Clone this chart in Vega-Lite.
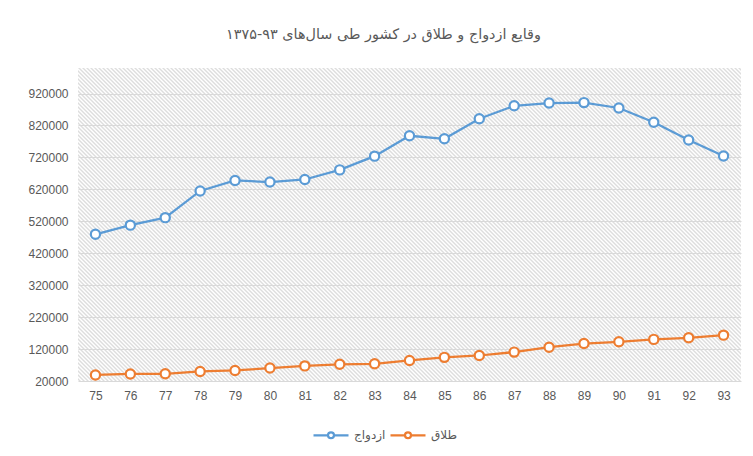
{
  "$schema": "https://vega.github.io/schema/vega-lite/v6.json",
  "width": 663,
  "height": 313,
  "autosize": "none",
  "padding": {"left": 78, "top": 68, "right": 12, "bottom": 75},
  "background": "white",
  "title": {
    "text": "وقایع ازدواج و طلاق در کشور طی سال‌های ۹۳-۱۳۷۵",
    "font": "DejaVu Sans",
    "fontSize": 14.4,
    "fontWeight": "normal",
    "color": "#595959",
    "anchor": "middle",
    "offset": 26,
    "dx": -26
  },
  "data": {
    "values": [
      {"year": "75", "series": "ازدواج", "value": 479263},
      {"year": "76", "series": "ازدواج", "value": 508000},
      {"year": "77", "series": "ازدواج", "value": 531490},
      {"year": "78", "series": "ازدواج", "value": 615000},
      {"year": "79", "series": "ازدواج", "value": 648000},
      {"year": "80", "series": "ازدواج", "value": 643000},
      {"year": "81", "series": "ازدواج", "value": 651000},
      {"year": "82", "series": "ازدواج", "value": 681000},
      {"year": "83", "series": "ازدواج", "value": 724000},
      {"year": "84", "series": "ازدواج", "value": 787818},
      {"year": "85", "series": "ازدواج", "value": 778332},
      {"year": "86", "series": "ازدواج", "value": 841107},
      {"year": "87", "series": "ازدواج", "value": 881592},
      {"year": "88", "series": "ازدواج", "value": 890208},
      {"year": "89", "series": "ازدواج", "value": 891627},
      {"year": "90", "series": "ازدواج", "value": 874792},
      {"year": "91", "series": "ازدواج", "value": 829968},
      {"year": "92", "series": "ازدواج", "value": 774513},
      {"year": "93", "series": "ازدواج", "value": 724324},
      {"year": "75", "series": "طلاق", "value": 39000},
      {"year": "76", "series": "طلاق", "value": 42000},
      {"year": "77", "series": "طلاق", "value": 42500},
      {"year": "78", "series": "طلاق", "value": 50000},
      {"year": "79", "series": "طلاق", "value": 53000},
      {"year": "80", "series": "طلاق", "value": 60559},
      {"year": "81", "series": "طلاق", "value": 67256},
      {"year": "82", "series": "طلاق", "value": 72359},
      {"year": "83", "series": "طلاق", "value": 73882},
      {"year": "84", "series": "طلاق", "value": 84241},
      {"year": "85", "series": "طلاق", "value": 94039},
      {"year": "86", "series": "طلاق", "value": 99852},
      {"year": "87", "series": "طلاق", "value": 110510},
      {"year": "88", "series": "طلاق", "value": 125747},
      {"year": "89", "series": "طلاق", "value": 137200},
      {"year": "90", "series": "طلاق", "value": 142841},
      {"year": "91", "series": "طلاق", "value": 150324},
      {"year": "92", "series": "طلاق", "value": 155369},
      {"year": "93", "series": "طلاق", "value": 163569}
    ]
  },
  "mark": {
    "type": "line",
    "strokeWidth": 2.25,
    "point": {"filled": false, "fill": "white", "size": 85, "strokeWidth": 2.2}
  },
  "encoding": {
    "x": {
      "field": "year",
      "type": "ordinal",
      "sort": null,
      "scale": {"type": "point", "padding": 0.5},
      "axis": {
        "title": null,
        "labelAngle": 0,
        "labelFont": "Liberation Sans",
        "labelFontSize": 12,
        "labelColor": "#595959",
        "labelPadding": 9,
        "ticks": false,
        "domain": false,
        "grid": false
      }
    },
    "y": {
      "field": "value",
      "type": "quantitative",
      "scale": {"domain": [20000, 1000000], "nice": false, "zero": false},
      "axis": {
        "title": null,
        "values": [20000, 120000, 220000, 320000, 420000, 520000, 620000, 720000, 820000, 920000],
        "format": "d",
        "labelFont": "Liberation Sans",
        "labelFontSize": 12,
        "labelColor": "#595959",
        "labelPadding": 10,
        "ticks": false,
        "domain": false,
        "grid": true,
        "gridColor": "#d9d9d9",
        "gridWidth": 1
      }
    },
    "color": {
      "field": "series",
      "type": "nominal",
      "scale": {"domain": ["ازدواج", "طلاق"], "range": ["#5b9bd5", "#ed7d31"]},
      "legend": {
        "title": null,
        "orient": "none",
        "direction": "horizontal",
        "legendX": 234,
        "legendY": 348,
        "symbolType": "M-1,0L-0.17,0M0.17,0L1,0M0.17,0A0.17,0.17,0,1,1,-0.17,0A0.17,0.17,0,1,1,0.17,0Z",
        "symbolSize": 1225,
        "symbolStrokeWidth": 2.25,
        "symbolFillColor": "white",
        "labelFont": "DejaVu Sans",
        "labelFontSize": 12,
        "labelColor": "#595959",
        "labelOffset": 4,
        "columnPadding": 0
      }
    }
  },
  "config": {
    "view": {
      "stroke": null,
      "fill": {
        "gradient": "linear",
        "x1": 0, "y1": 1, "x2": 1.2334, "y2": 0.41771,
        "stops": [
{"offset":0.000,"color":"#fff"},{"offset":0.002,"color":"#ddd"},{"offset":0.004,"color":"#fff"},{"offset":0.006,"color":"#ddd"},{"offset":0.008,"color":"#fff"},
{"offset":0.010,"color":"#ddd"},{"offset":0.012,"color":"#fff"},{"offset":0.014,"color":"#ddd"},{"offset":0.016,"color":"#fff"},{"offset":0.018,"color":"#ddd"},
{"offset":0.020,"color":"#fff"},{"offset":0.022,"color":"#ddd"},{"offset":0.024,"color":"#fff"},{"offset":0.026,"color":"#ddd"},{"offset":0.028,"color":"#fff"},
{"offset":0.030,"color":"#ddd"},{"offset":0.032,"color":"#fff"},{"offset":0.034,"color":"#ddd"},{"offset":0.036,"color":"#fff"},{"offset":0.038,"color":"#ddd"},
{"offset":0.040,"color":"#fff"},{"offset":0.042,"color":"#ddd"},{"offset":0.044,"color":"#fff"},{"offset":0.046,"color":"#ddd"},{"offset":0.048,"color":"#fff"},
{"offset":0.050,"color":"#ddd"},{"offset":0.052,"color":"#fff"},{"offset":0.054,"color":"#ddd"},{"offset":0.056,"color":"#fff"},{"offset":0.058,"color":"#ddd"},
{"offset":0.060,"color":"#fff"},{"offset":0.062,"color":"#ddd"},{"offset":0.064,"color":"#fff"},{"offset":0.066,"color":"#ddd"},{"offset":0.068,"color":"#fff"},
{"offset":0.070,"color":"#ddd"},{"offset":0.072,"color":"#fff"},{"offset":0.074,"color":"#ddd"},{"offset":0.076,"color":"#fff"},{"offset":0.078,"color":"#ddd"},
{"offset":0.080,"color":"#fff"},{"offset":0.082,"color":"#ddd"},{"offset":0.084,"color":"#fff"},{"offset":0.086,"color":"#ddd"},{"offset":0.088,"color":"#fff"},
{"offset":0.090,"color":"#ddd"},{"offset":0.092,"color":"#fff"},{"offset":0.094,"color":"#ddd"},{"offset":0.096,"color":"#fff"},{"offset":0.098,"color":"#ddd"},
{"offset":0.100,"color":"#fff"},{"offset":0.102,"color":"#ddd"},{"offset":0.104,"color":"#fff"},{"offset":0.106,"color":"#ddd"},{"offset":0.108,"color":"#fff"},
{"offset":0.110,"color":"#ddd"},{"offset":0.112,"color":"#fff"},{"offset":0.114,"color":"#ddd"},{"offset":0.116,"color":"#fff"},{"offset":0.118,"color":"#ddd"},
{"offset":0.120,"color":"#fff"},{"offset":0.122,"color":"#ddd"},{"offset":0.124,"color":"#fff"},{"offset":0.126,"color":"#ddd"},{"offset":0.128,"color":"#fff"},
{"offset":0.130,"color":"#ddd"},{"offset":0.132,"color":"#fff"},{"offset":0.134,"color":"#ddd"},{"offset":0.136,"color":"#fff"},{"offset":0.138,"color":"#ddd"},
{"offset":0.140,"color":"#fff"},{"offset":0.142,"color":"#ddd"},{"offset":0.144,"color":"#fff"},{"offset":0.146,"color":"#ddd"},{"offset":0.148,"color":"#fff"},
{"offset":0.150,"color":"#ddd"},{"offset":0.152,"color":"#fff"},{"offset":0.154,"color":"#ddd"},{"offset":0.156,"color":"#fff"},{"offset":0.158,"color":"#ddd"},
{"offset":0.160,"color":"#fff"},{"offset":0.162,"color":"#ddd"},{"offset":0.164,"color":"#fff"},{"offset":0.166,"color":"#ddd"},{"offset":0.168,"color":"#fff"},
{"offset":0.170,"color":"#ddd"},{"offset":0.172,"color":"#fff"},{"offset":0.174,"color":"#ddd"},{"offset":0.176,"color":"#fff"},{"offset":0.178,"color":"#ddd"},
{"offset":0.180,"color":"#fff"},{"offset":0.182,"color":"#ddd"},{"offset":0.184,"color":"#fff"},{"offset":0.186,"color":"#ddd"},{"offset":0.188,"color":"#fff"},
{"offset":0.190,"color":"#ddd"},{"offset":0.192,"color":"#fff"},{"offset":0.194,"color":"#ddd"},{"offset":0.196,"color":"#fff"},{"offset":0.198,"color":"#ddd"},
{"offset":0.200,"color":"#fff"},{"offset":0.202,"color":"#ddd"},{"offset":0.204,"color":"#fff"},{"offset":0.206,"color":"#ddd"},{"offset":0.208,"color":"#fff"},
{"offset":0.210,"color":"#ddd"},{"offset":0.212,"color":"#fff"},{"offset":0.214,"color":"#ddd"},{"offset":0.216,"color":"#fff"},{"offset":0.218,"color":"#ddd"},
{"offset":0.220,"color":"#fff"},{"offset":0.222,"color":"#ddd"},{"offset":0.224,"color":"#fff"},{"offset":0.226,"color":"#ddd"},{"offset":0.228,"color":"#fff"},
{"offset":0.230,"color":"#ddd"},{"offset":0.232,"color":"#fff"},{"offset":0.234,"color":"#ddd"},{"offset":0.236,"color":"#fff"},{"offset":0.238,"color":"#ddd"},
{"offset":0.240,"color":"#fff"},{"offset":0.242,"color":"#ddd"},{"offset":0.244,"color":"#fff"},{"offset":0.246,"color":"#ddd"},{"offset":0.248,"color":"#fff"},
{"offset":0.250,"color":"#ddd"},{"offset":0.252,"color":"#fff"},{"offset":0.254,"color":"#ddd"},{"offset":0.256,"color":"#fff"},{"offset":0.258,"color":"#ddd"},
{"offset":0.260,"color":"#fff"},{"offset":0.262,"color":"#ddd"},{"offset":0.264,"color":"#fff"},{"offset":0.266,"color":"#ddd"},{"offset":0.268,"color":"#fff"},
{"offset":0.270,"color":"#ddd"},{"offset":0.272,"color":"#fff"},{"offset":0.274,"color":"#ddd"},{"offset":0.276,"color":"#fff"},{"offset":0.278,"color":"#ddd"},
{"offset":0.280,"color":"#fff"},{"offset":0.282,"color":"#ddd"},{"offset":0.284,"color":"#fff"},{"offset":0.286,"color":"#ddd"},{"offset":0.288,"color":"#fff"},
{"offset":0.290,"color":"#ddd"},{"offset":0.292,"color":"#fff"},{"offset":0.294,"color":"#ddd"},{"offset":0.296,"color":"#fff"},{"offset":0.298,"color":"#ddd"},
{"offset":0.300,"color":"#fff"},{"offset":0.302,"color":"#ddd"},{"offset":0.304,"color":"#fff"},{"offset":0.306,"color":"#ddd"},{"offset":0.308,"color":"#fff"},
{"offset":0.310,"color":"#ddd"},{"offset":0.312,"color":"#fff"},{"offset":0.314,"color":"#ddd"},{"offset":0.316,"color":"#fff"},{"offset":0.318,"color":"#ddd"},
{"offset":0.320,"color":"#fff"},{"offset":0.322,"color":"#ddd"},{"offset":0.324,"color":"#fff"},{"offset":0.326,"color":"#ddd"},{"offset":0.328,"color":"#fff"},
{"offset":0.330,"color":"#ddd"},{"offset":0.332,"color":"#fff"},{"offset":0.334,"color":"#ddd"},{"offset":0.336,"color":"#fff"},{"offset":0.338,"color":"#ddd"},
{"offset":0.340,"color":"#fff"},{"offset":0.342,"color":"#ddd"},{"offset":0.344,"color":"#fff"},{"offset":0.346,"color":"#ddd"},{"offset":0.348,"color":"#fff"},
{"offset":0.350,"color":"#ddd"},{"offset":0.352,"color":"#fff"},{"offset":0.354,"color":"#ddd"},{"offset":0.356,"color":"#fff"},{"offset":0.358,"color":"#ddd"},
{"offset":0.360,"color":"#fff"},{"offset":0.362,"color":"#ddd"},{"offset":0.364,"color":"#fff"},{"offset":0.366,"color":"#ddd"},{"offset":0.368,"color":"#fff"},
{"offset":0.370,"color":"#ddd"},{"offset":0.372,"color":"#fff"},{"offset":0.374,"color":"#ddd"},{"offset":0.376,"color":"#fff"},{"offset":0.378,"color":"#ddd"},
{"offset":0.380,"color":"#fff"},{"offset":0.382,"color":"#ddd"},{"offset":0.384,"color":"#fff"},{"offset":0.386,"color":"#ddd"},{"offset":0.388,"color":"#fff"},
{"offset":0.390,"color":"#ddd"},{"offset":0.392,"color":"#fff"},{"offset":0.394,"color":"#ddd"},{"offset":0.396,"color":"#fff"},{"offset":0.398,"color":"#ddd"},
{"offset":0.400,"color":"#fff"},{"offset":0.402,"color":"#ddd"},{"offset":0.404,"color":"#fff"},{"offset":0.406,"color":"#ddd"},{"offset":0.408,"color":"#fff"},
{"offset":0.410,"color":"#ddd"},{"offset":0.412,"color":"#fff"},{"offset":0.414,"color":"#ddd"},{"offset":0.416,"color":"#fff"},{"offset":0.418,"color":"#ddd"},
{"offset":0.420,"color":"#fff"},{"offset":0.422,"color":"#ddd"},{"offset":0.424,"color":"#fff"},{"offset":0.426,"color":"#ddd"},{"offset":0.428,"color":"#fff"},
{"offset":0.430,"color":"#ddd"},{"offset":0.432,"color":"#fff"},{"offset":0.434,"color":"#ddd"},{"offset":0.436,"color":"#fff"},{"offset":0.438,"color":"#ddd"},
{"offset":0.440,"color":"#fff"},{"offset":0.442,"color":"#ddd"},{"offset":0.444,"color":"#fff"},{"offset":0.446,"color":"#ddd"},{"offset":0.448,"color":"#fff"},
{"offset":0.450,"color":"#ddd"},{"offset":0.452,"color":"#fff"},{"offset":0.454,"color":"#ddd"},{"offset":0.456,"color":"#fff"},{"offset":0.458,"color":"#ddd"},
{"offset":0.460,"color":"#fff"},{"offset":0.462,"color":"#ddd"},{"offset":0.464,"color":"#fff"},{"offset":0.466,"color":"#ddd"},{"offset":0.468,"color":"#fff"},
{"offset":0.470,"color":"#ddd"},{"offset":0.472,"color":"#fff"},{"offset":0.474,"color":"#ddd"},{"offset":0.476,"color":"#fff"},{"offset":0.478,"color":"#ddd"},
{"offset":0.480,"color":"#fff"},{"offset":0.482,"color":"#ddd"},{"offset":0.484,"color":"#fff"},{"offset":0.486,"color":"#ddd"},{"offset":0.488,"color":"#fff"},
{"offset":0.490,"color":"#ddd"},{"offset":0.492,"color":"#fff"},{"offset":0.494,"color":"#ddd"},{"offset":0.496,"color":"#fff"},{"offset":0.498,"color":"#ddd"},
{"offset":0.500,"color":"#fff"},{"offset":0.502,"color":"#ddd"},{"offset":0.504,"color":"#fff"},{"offset":0.506,"color":"#ddd"},{"offset":0.508,"color":"#fff"},
{"offset":0.510,"color":"#ddd"},{"offset":0.512,"color":"#fff"},{"offset":0.514,"color":"#ddd"},{"offset":0.516,"color":"#fff"},{"offset":0.518,"color":"#ddd"},
{"offset":0.520,"color":"#fff"},{"offset":0.522,"color":"#ddd"},{"offset":0.524,"color":"#fff"},{"offset":0.526,"color":"#ddd"},{"offset":0.528,"color":"#fff"},
{"offset":0.530,"color":"#ddd"},{"offset":0.532,"color":"#fff"},{"offset":0.534,"color":"#ddd"},{"offset":0.536,"color":"#fff"},{"offset":0.538,"color":"#ddd"},
{"offset":0.540,"color":"#fff"},{"offset":0.542,"color":"#ddd"},{"offset":0.544,"color":"#fff"},{"offset":0.546,"color":"#ddd"},{"offset":0.548,"color":"#fff"},
{"offset":0.550,"color":"#ddd"},{"offset":0.552,"color":"#fff"},{"offset":0.554,"color":"#ddd"},{"offset":0.556,"color":"#fff"},{"offset":0.558,"color":"#ddd"},
{"offset":0.560,"color":"#fff"},{"offset":0.562,"color":"#ddd"},{"offset":0.564,"color":"#fff"},{"offset":0.566,"color":"#ddd"},{"offset":0.568,"color":"#fff"},
{"offset":0.570,"color":"#ddd"},{"offset":0.572,"color":"#fff"},{"offset":0.574,"color":"#ddd"},{"offset":0.576,"color":"#fff"},{"offset":0.578,"color":"#ddd"},
{"offset":0.580,"color":"#fff"},{"offset":0.582,"color":"#ddd"},{"offset":0.584,"color":"#fff"},{"offset":0.586,"color":"#ddd"},{"offset":0.588,"color":"#fff"},
{"offset":0.590,"color":"#ddd"},{"offset":0.592,"color":"#fff"},{"offset":0.594,"color":"#ddd"},{"offset":0.596,"color":"#fff"},{"offset":0.598,"color":"#ddd"},
{"offset":0.600,"color":"#fff"},{"offset":0.602,"color":"#ddd"},{"offset":0.604,"color":"#fff"},{"offset":0.606,"color":"#ddd"},{"offset":0.608,"color":"#fff"},
{"offset":0.610,"color":"#ddd"},{"offset":0.612,"color":"#fff"},{"offset":0.614,"color":"#ddd"},{"offset":0.616,"color":"#fff"},{"offset":0.618,"color":"#ddd"},
{"offset":0.620,"color":"#fff"},{"offset":0.622,"color":"#ddd"},{"offset":0.624,"color":"#fff"},{"offset":0.626,"color":"#ddd"},{"offset":0.628,"color":"#fff"},
{"offset":0.630,"color":"#ddd"},{"offset":0.632,"color":"#fff"},{"offset":0.634,"color":"#ddd"},{"offset":0.636,"color":"#fff"},{"offset":0.638,"color":"#ddd"},
{"offset":0.640,"color":"#fff"},{"offset":0.642,"color":"#ddd"},{"offset":0.644,"color":"#fff"},{"offset":0.646,"color":"#ddd"},{"offset":0.648,"color":"#fff"},
{"offset":0.650,"color":"#ddd"},{"offset":0.652,"color":"#fff"},{"offset":0.654,"color":"#ddd"},{"offset":0.656,"color":"#fff"},{"offset":0.658,"color":"#ddd"},
{"offset":0.660,"color":"#fff"},{"offset":0.662,"color":"#ddd"},{"offset":0.664,"color":"#fff"},{"offset":0.666,"color":"#ddd"},{"offset":0.668,"color":"#fff"},
{"offset":0.670,"color":"#ddd"},{"offset":0.672,"color":"#fff"},{"offset":0.674,"color":"#ddd"},{"offset":0.676,"color":"#fff"},{"offset":0.678,"color":"#ddd"},
{"offset":0.680,"color":"#fff"},{"offset":0.682,"color":"#ddd"},{"offset":0.684,"color":"#fff"},{"offset":0.686,"color":"#ddd"},{"offset":0.688,"color":"#fff"},
{"offset":0.690,"color":"#ddd"},{"offset":0.692,"color":"#fff"},{"offset":0.694,"color":"#ddd"},{"offset":0.696,"color":"#fff"},{"offset":0.698,"color":"#ddd"},
{"offset":0.700,"color":"#fff"},{"offset":0.702,"color":"#ddd"},{"offset":0.704,"color":"#fff"},{"offset":0.706,"color":"#ddd"},{"offset":0.708,"color":"#fff"},
{"offset":0.710,"color":"#ddd"},{"offset":0.712,"color":"#fff"},{"offset":0.714,"color":"#ddd"},{"offset":0.716,"color":"#fff"},{"offset":0.718,"color":"#ddd"},
{"offset":0.720,"color":"#fff"},{"offset":0.722,"color":"#ddd"},{"offset":0.724,"color":"#fff"},{"offset":0.726,"color":"#ddd"},{"offset":0.728,"color":"#fff"},
{"offset":0.730,"color":"#ddd"},{"offset":0.732,"color":"#fff"},{"offset":0.734,"color":"#ddd"},{"offset":0.736,"color":"#fff"},{"offset":0.738,"color":"#ddd"},
{"offset":0.740,"color":"#fff"},{"offset":0.742,"color":"#ddd"},{"offset":0.744,"color":"#fff"},{"offset":0.746,"color":"#ddd"},{"offset":0.748,"color":"#fff"},
{"offset":0.750,"color":"#ddd"},{"offset":0.752,"color":"#fff"},{"offset":0.754,"color":"#ddd"},{"offset":0.756,"color":"#fff"},{"offset":0.758,"color":"#ddd"},
{"offset":0.760,"color":"#fff"},{"offset":0.762,"color":"#ddd"},{"offset":0.764,"color":"#fff"},{"offset":0.766,"color":"#ddd"},{"offset":0.768,"color":"#fff"},
{"offset":0.770,"color":"#ddd"},{"offset":0.772,"color":"#fff"},{"offset":0.774,"color":"#ddd"},{"offset":0.776,"color":"#fff"},{"offset":0.778,"color":"#ddd"},
{"offset":0.780,"color":"#fff"},{"offset":0.782,"color":"#ddd"},{"offset":0.784,"color":"#fff"},{"offset":0.786,"color":"#ddd"},{"offset":0.788,"color":"#fff"},
{"offset":0.790,"color":"#ddd"},{"offset":0.792,"color":"#fff"},{"offset":0.794,"color":"#ddd"},{"offset":0.796,"color":"#fff"},{"offset":0.798,"color":"#ddd"},
{"offset":0.800,"color":"#fff"},{"offset":0.802,"color":"#ddd"},{"offset":0.804,"color":"#fff"},{"offset":0.806,"color":"#ddd"},{"offset":0.808,"color":"#fff"},
{"offset":0.810,"color":"#ddd"},{"offset":0.812,"color":"#fff"},{"offset":0.814,"color":"#ddd"},{"offset":0.816,"color":"#fff"},{"offset":0.818,"color":"#ddd"},
{"offset":0.820,"color":"#fff"},{"offset":0.822,"color":"#ddd"},{"offset":0.824,"color":"#fff"},{"offset":0.826,"color":"#ddd"},{"offset":0.828,"color":"#fff"},
{"offset":0.830,"color":"#ddd"},{"offset":0.832,"color":"#fff"},{"offset":0.834,"color":"#ddd"},{"offset":0.836,"color":"#fff"},{"offset":0.838,"color":"#ddd"},
{"offset":0.840,"color":"#fff"},{"offset":0.842,"color":"#ddd"},{"offset":0.844,"color":"#fff"},{"offset":0.846,"color":"#ddd"},{"offset":0.848,"color":"#fff"},
{"offset":0.850,"color":"#ddd"},{"offset":0.852,"color":"#fff"},{"offset":0.854,"color":"#ddd"},{"offset":0.856,"color":"#fff"},{"offset":0.858,"color":"#ddd"},
{"offset":0.860,"color":"#fff"},{"offset":0.862,"color":"#ddd"},{"offset":0.864,"color":"#fff"},{"offset":0.866,"color":"#ddd"},{"offset":0.868,"color":"#fff"},
{"offset":0.870,"color":"#ddd"},{"offset":0.872,"color":"#fff"},{"offset":0.874,"color":"#ddd"},{"offset":0.876,"color":"#fff"},{"offset":0.878,"color":"#ddd"},
{"offset":0.880,"color":"#fff"},{"offset":0.882,"color":"#ddd"},{"offset":0.884,"color":"#fff"},{"offset":0.886,"color":"#ddd"},{"offset":0.888,"color":"#fff"},
{"offset":0.890,"color":"#ddd"},{"offset":0.892,"color":"#fff"},{"offset":0.894,"color":"#ddd"},{"offset":0.896,"color":"#fff"},{"offset":0.898,"color":"#ddd"},
{"offset":0.900,"color":"#fff"},{"offset":0.902,"color":"#ddd"},{"offset":0.904,"color":"#fff"},{"offset":0.906,"color":"#ddd"},{"offset":0.908,"color":"#fff"},
{"offset":0.910,"color":"#ddd"},{"offset":0.912,"color":"#fff"},{"offset":0.914,"color":"#ddd"},{"offset":0.916,"color":"#fff"},{"offset":0.918,"color":"#ddd"},
{"offset":0.920,"color":"#fff"},{"offset":0.922,"color":"#ddd"},{"offset":0.924,"color":"#fff"},{"offset":0.926,"color":"#ddd"},{"offset":0.928,"color":"#fff"},
{"offset":0.930,"color":"#ddd"},{"offset":0.932,"color":"#fff"},{"offset":0.934,"color":"#ddd"},{"offset":0.936,"color":"#fff"},{"offset":0.938,"color":"#ddd"},
{"offset":0.940,"color":"#fff"},{"offset":0.942,"color":"#ddd"},{"offset":0.944,"color":"#fff"},{"offset":0.946,"color":"#ddd"},{"offset":0.948,"color":"#fff"},
{"offset":0.950,"color":"#ddd"},{"offset":0.952,"color":"#fff"},{"offset":0.954,"color":"#ddd"},{"offset":0.956,"color":"#fff"},{"offset":0.958,"color":"#ddd"},
{"offset":0.960,"color":"#fff"},{"offset":0.962,"color":"#ddd"},{"offset":0.964,"color":"#fff"},{"offset":0.966,"color":"#ddd"},{"offset":0.968,"color":"#fff"},
{"offset":0.970,"color":"#ddd"},{"offset":0.972,"color":"#fff"},{"offset":0.974,"color":"#ddd"},{"offset":0.976,"color":"#fff"},{"offset":0.978,"color":"#ddd"},
{"offset":0.980,"color":"#fff"},{"offset":0.982,"color":"#ddd"},{"offset":0.984,"color":"#fff"},{"offset":0.986,"color":"#ddd"},{"offset":0.988,"color":"#fff"},
{"offset":0.990,"color":"#ddd"},{"offset":0.992,"color":"#fff"},{"offset":0.994,"color":"#ddd"},{"offset":0.996,"color":"#fff"},{"offset":0.998,"color":"#ddd"},
{"offset":1.000,"color":"#fff"}
        ]
      }
    }
  }
}
